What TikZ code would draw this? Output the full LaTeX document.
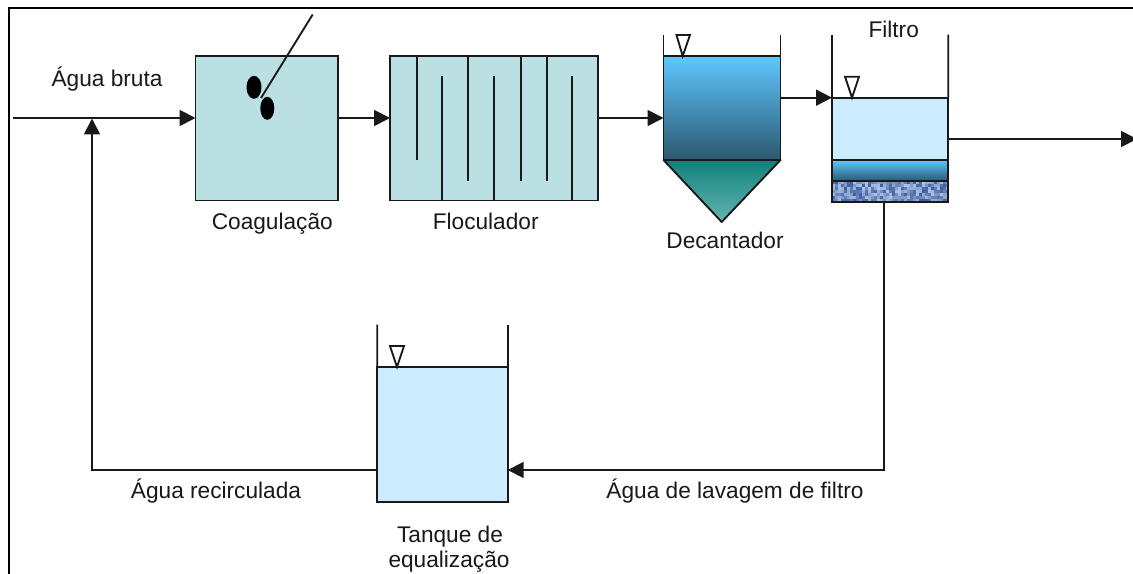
\documentclass[tikz,border=0pt]{standalone}
\usepackage{fontspec}
\setmainfont{Liberation Sans}
\usetikzlibrary{arrows.meta,calc,shapes.geometric}
\definecolor{coagfill}{HTML}{BAE0E3}
\definecolor{tankfill}{HTML}{CCECFF}
\definecolor{gradtop}{HTML}{5FC8FF}
\definecolor{gradbot}{HTML}{2B5870}
\definecolor{conetop}{HTML}{12807A}
\definecolor{conebot}{HTML}{62B6B2}
\definecolor{sanddark}{HTML}{2A4F94}
\definecolor{sandlight}{HTML}{C8D8F2}
\tikzset{
  x=0.75pt,y=-0.75pt,
  ln/.style={line width=1.4pt,draw=black!90},
  arr/.style={ln,-{Triangle[length=12pt,width=12pt]}},
  vessel/.style={ln,rectangle,inner sep=0pt,outer sep=0pt},
  label/.style={anchor=base,inner sep=0pt,font=\fontsize{17}{20}\selectfont,text=black!90},
  level/.style={ln,fill=white,line join=miter},
  blob/.style={ellipse,fill=black,draw=none,inner sep=0pt},
}
\newcommand{\vesselbox}[6]{%
  \node[vessel,#6,minimum width={((#4)-(#2))*0.75pt},minimum height={((#5)-(#3))*0.75pt}]
    (#1) at ({((#2)+(#4))/2},{((#3)+(#5))/2}) {};}
\begin{document}
\begin{tikzpicture}
\useasboundingbox (0,0) rectangle (1133,574);
\clip (0,0) rectangle (1133,574);
\fill[white] (0,0) rectangle (1133,574);
% frame
\coordinate (frameTR) at (1140,8.5);
\coordinate (frameTL) at (8.5,8.5);
\coordinate (frameBL) at (8.5,580);
\draw[line width=1.5pt] (frameBL) -- (frameTL) -- (frameTR);

% vessels
\vesselbox{coag}{195.5}{56}{338}{200.5}{fill=coagfill}
\vesselbox{floc}{390}{56}{598}{200.5}{fill=coagfill}
\vesselbox{dec}{663.5}{56}{780.5}{160}{top color=gradtop,bottom color=gradbot}
\vesselbox{filtw}{832}{97.7}{948.3}{160}{fill=tankfill}
\vesselbox{filtm}{832}{160}{948.3}{181}{top color=gradtop,bottom color=gradbot}
\vesselbox{filts}{832}{181}{948.3}{201.7}{fill=sandlight}
\vesselbox{tank}{377.3}{367}{507.7}{502.3}{fill=tankfill}

% sand texture of the filter
\pgfmathsetseed{7}
\begin{scope}
  \clip (filts.south west) rectangle (filts.north east);
  \foreach \i in {0,...,38}{
    \foreach \j in {0,...,6}{
      \pgfmathsetmacro{\mixval}{int(15+rnd*75)}
      \fill[sanddark!\mixval!sandlight] ({832+3*\i},{181+3*\j}) rectangle ++(3.2,3.2);
    }
  }
\end{scope}
\draw[ln] (filts.south west) rectangle (filts.north east);

% cone
\coordinate (conetip) at (721.7,222);
\draw[ln,top color=conetop,bottom color=conebot,line join=round] (dec.south west) -- (dec.south east) -- (conetip) -- cycle;

% open walls
\draw[ln] (663.5,34.7) -- (dec.north west);
\draw[ln] (780.5,34.7) -- (dec.north east);
\draw[ln] (832,34.7) -- (filtw.north west);
\draw[ln] (948.3,34.7) -- (filtw.north east);
\draw[ln] (377.3,324.7) -- (tank.north west);
\draw[ln] (507.7,324.7) -- (tank.north east);

% level markers
\draw[level] (676.5,35) -- (690,35) -- (682.7,56) -- cycle;
\draw[level] (845,76.7) -- (859,76.7) -- (852,97.7) -- cycle;
\draw[level] (390,346) -- (404,346) -- (397,367) -- cycle;

% baffles
\foreach \x/\yend in {416.7/160,468/181,520.7/181,546.7/181}
  \draw[ln] (\x,56) -- (\x,\yend);
\foreach \x in {442.3,494,572.3}
  \draw[ln] (\x,76) -- (\x,200.5);

% dosing
\node[blob,minimum width=11.25pt,minimum height=17.25pt] (dropA) at (254,87.3) {};
\node[blob,minimum width=10.5pt,minimum height=17.25pt] (dropB) at (267.3,108.3) {};
\coordinate (dosetop) at (312.7,14.5);
\coordinate (doseend) at (261,98);
\draw[ln] (dosetop) -- (doseend);

% flow coordinates
\coordinate (inlet) at (13,118);
\coordinate (merge) at (92,118.5);
\coordinate (decin) at (663.5,118);
\coordinate (filtout) at (948.3,139);
\coordinate (outlet) at (1137,139);
\coordinate (washtop) at (884.3,201.7);
\coordinate (washturn) at (884.3,470);
\coordinate (tankR) at (507.7,470);
\coordinate (tankL) at (377.3,470);
\coordinate (recturn) at (92,470);

\draw[arr] (inlet) -- (inlet -| coag.west);
\draw[arr] (coag.east |- inlet) -- (floc.west |- inlet);
\draw[arr] (floc.east |- inlet) -- (decin);
\draw[arr] (dec.east |- filtw.north) -- (filtw.north west);
\draw[arr] (filtout) -- (outlet);
\draw[arr] (washtop) -- (washturn) -- (tankR);
\draw[arr] (tankL) -- (recturn) -- (merge);

% labels
\node[label] (lbruta) at (107,87) {Água bruta};
\node[label] (lcoag) at (272.3,230) {Coagulação};
\node[label] (lfloc) at (485.7,229.5) {Floculador};
\node[label] (ldec) at (725,249) {Decantador};
\node[label] (lfilt) at (893.7,37.5) {Filtro};
\node[label] (lrec) at (216,498) {Água recirculada};
\node[label] (llav) at (735,498) {Água de lavagem de filtro};
\node[label] (ltan1) at (450,542.5) {Tanque de};
\node[label] (ltan2) at (449,567.5) {equalização};
\end{tikzpicture}
\end{document}
